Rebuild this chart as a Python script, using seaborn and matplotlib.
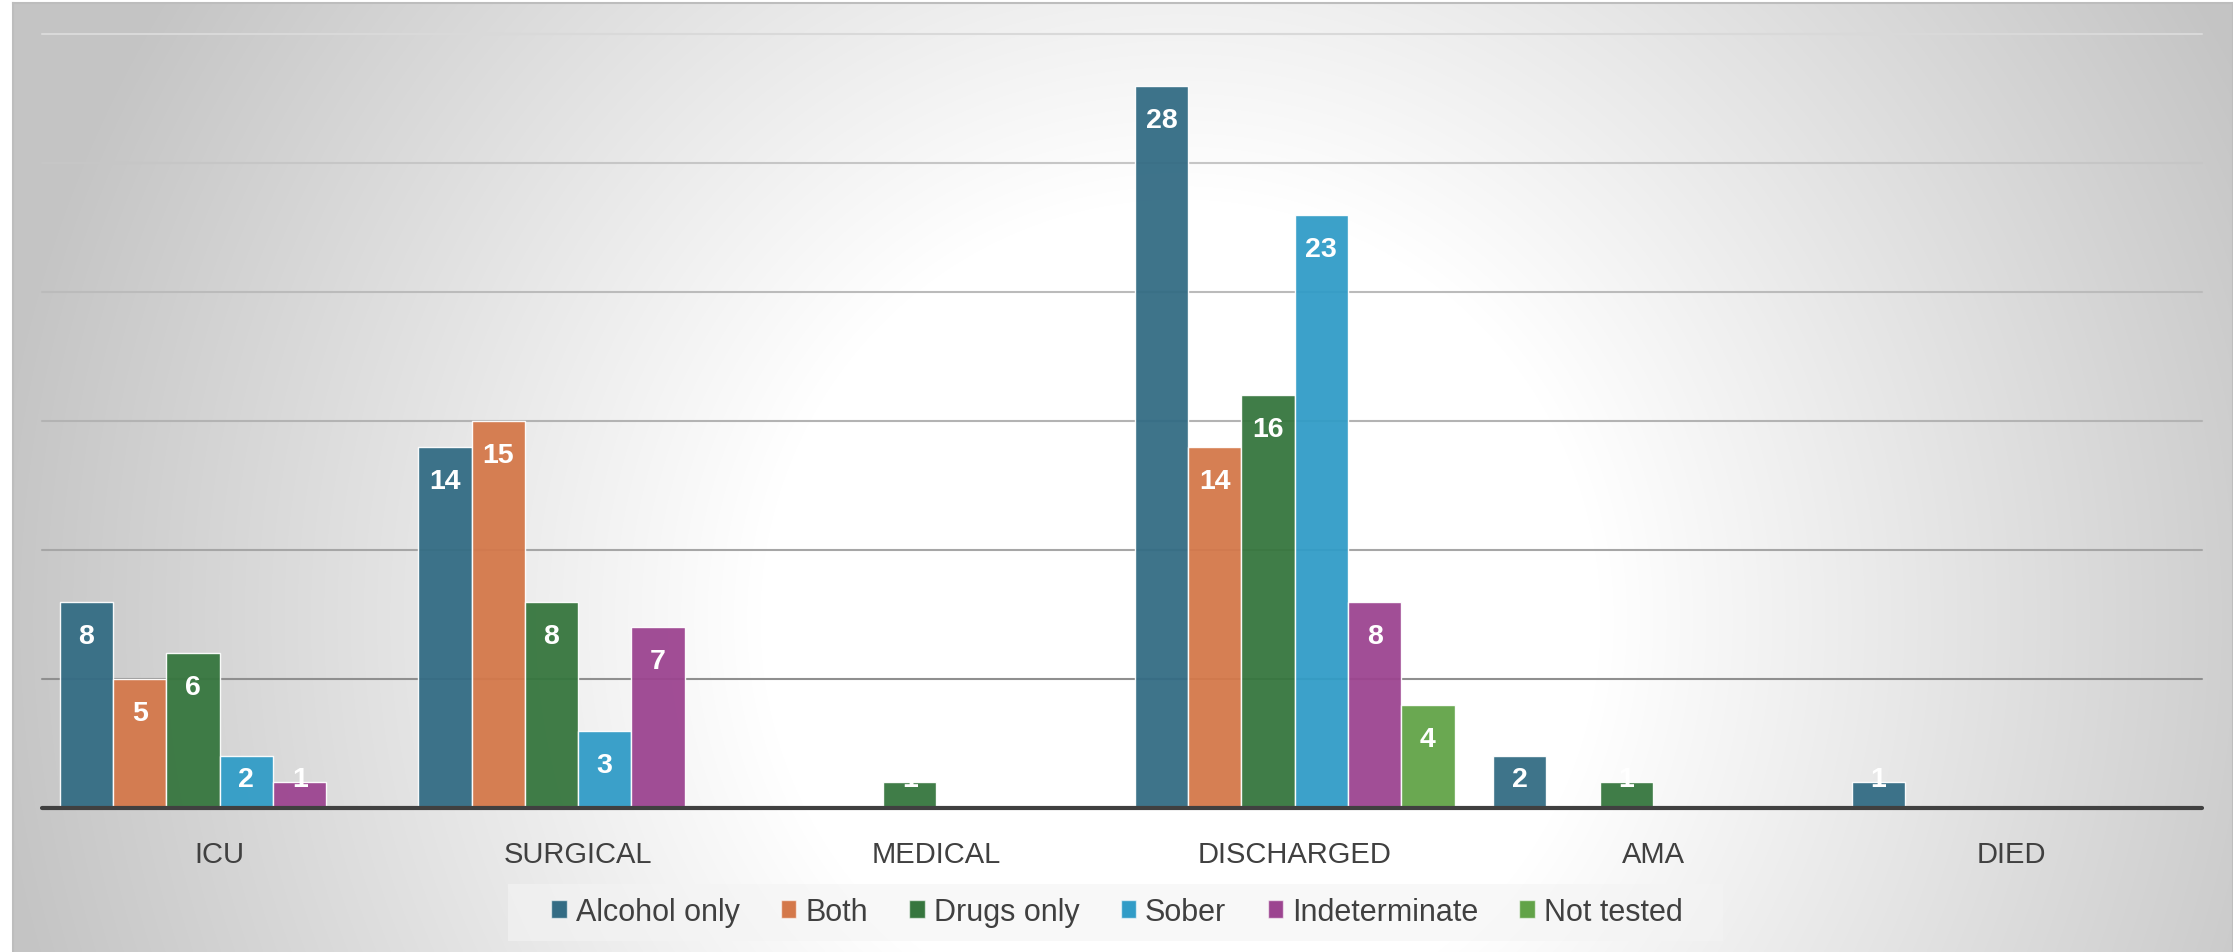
import numpy as np
import pandas as pd
import matplotlib
matplotlib.use("Agg")
import matplotlib.pyplot as plt
import seaborn as sns
from matplotlib.patches import Patch, Rectangle

# ---------------- data ----------------
categories = ["ICU", "SURGICAL", "MEDICAL", "DISCHARGED", "AMA", "DIED"]
series_names = ["Alcohol only", "Both", "Drugs only", "Sober", "Indeterminate", "Not tested"]
alcohol_only = [8, 14, 0, 28, 2, 1]
both = [5, 15, 0, 14, 0, 0]
drugs_only = [6, 8, 1, 16, 1, 0]
sober = [2, 3, 0, 23, 0, 0]
indeterminate = [1, 7, 0, 8, 0, 0]
not_tested = [0, 0, 0, 4, 0, 0]
series_values = [alcohol_only, both, drugs_only, sober, indeterminate, not_tested]
colors = ["#336C84", "#D4784A", "#36763E", "#319CC7", "#9C4490", "#62A348"]
grid_levels = [5, 10, 15, 20, 25, 30]
grid_colors = ["#8f8f8f", "#a6a6a6", "#b3b3b3", "#bbbbbb", "#c6c6c6", "#d9d9d9"]

rows = []
for name, vals in zip(series_names, series_values):
    for cat, v in zip(categories, vals):
        rows.append({"category": cat, "series": name, "value": v})
df = pd.DataFrame(rows)

# ---------------- figure ----------------
sns.set_theme(style="white")
plt.rcParams["font.family"] = ["Liberation Sans", "DejaVu Sans"]

W, H = 2233, 953
fig = plt.figure(figsize=(W / 100, H / 100), dpi=100)
fig.patch.set_facecolor("white")

# radial gradient background
bg = fig.add_axes([13 / W, 0, 1 - 13 / W, 1 - 4 / H], zorder=-10)
bw, bh = W - 13, H - 4
yy, xx = np.mgrid[0:bh, 0:bw]
cx, cy = 1180 - 13, 620 - 4
d = np.sqrt((xx - cx) ** 2 + (yy - cy) ** 2) / 1200.0
t = np.clip((d - 0.35) / 0.65, 0, 1)
val = 255 - t * (255 - 196)
img = np.dstack([val, val, val]) / 255.0
bg.imshow(img, aspect="auto", interpolation="bilinear", extent=[0, 1, 0, 1])
bg.set_xlim(0, 1)
bg.set_ylim(0, 1)
bg.set_xticks([])
bg.set_yticks([])
for s in ["left", "right", "top", "bottom"]:
    bg.spines[s].set_visible(True)
    bg.spines[s].set_color("#bdbdbd")
    bg.spines[s].set_linewidth(1.5)
bg.spines["bottom"].set_visible(False)

# legend background panel
fig.patches.append(Rectangle((508 / W, 1 - 942 / H), (1723 - 508) / W, 57 / H,
                             transform=fig.transFigure, facecolor="#f4f4f4",
                             alpha=0.6, edgecolor="none", zorder=-5))

# main axes
ax = fig.add_axes([42 / W, 1 - 809 / H, (2202 - 42) / W, (809 - 35) / H])
ax.set_facecolor("none")

for lvl, gc in zip(grid_levels, grid_colors):
    ax.axhline(lvl, color=gc, lw=1.5, zorder=0, clip_on=False)

sns.barplot(data=df, x="category", y="value", hue="series", order=categories,
            hue_order=series_names, palette=colors, width=0.892, gap=0,
            saturation=1, dodge=True, legend=False, ax=ax, zorder=2, alpha=0.95)

for p in ax.patches:
    p.set_edgecolor((1, 1, 1, 0.55))
    p.set_linewidth(1.0)
    h = p.get_height()
    if h > 0:
        xc = p.get_x() + p.get_width() / 2
        ytxt = max(h - 1.32, 1.12)
        ax.text(xc, ytxt, f"{int(h)}", ha="center", va="center", color="white",
                fontsize=20.5, fontweight="bold", zorder=5)

ax.axhline(0, color="#404040", lw=3, zorder=4, clip_on=False)

ax.set_ylim(0, 30)
ax.set_xlim(-0.496, 5.532)
ax.set_yticks([])
ax.set_xlabel("")
ax.set_ylabel("")
ax.tick_params(axis="x", length=0, pad=23, labelsize=21, labelcolor="#404040")
for s in ax.spines.values():
    s.set_visible(False)

handles = [Patch(facecolor=c, edgecolor=(1, 1, 1, 0.6), linewidth=1) for c in colors]
leg = fig.legend(handles, series_names, loc="center", ncol=6,
                 bbox_to_anchor=(1117 / W, 1 - 913 / H), fontsize=22,
                 frameon=False, handlelength=0.5, handleheight=0.5,
                 handletextpad=0.3, columnspacing=1.35, borderpad=0.3,
                 borderaxespad=0)
for txt in leg.get_texts():
    txt.set_color("#404040")

fig.savefig("out.png", dpi=100)
